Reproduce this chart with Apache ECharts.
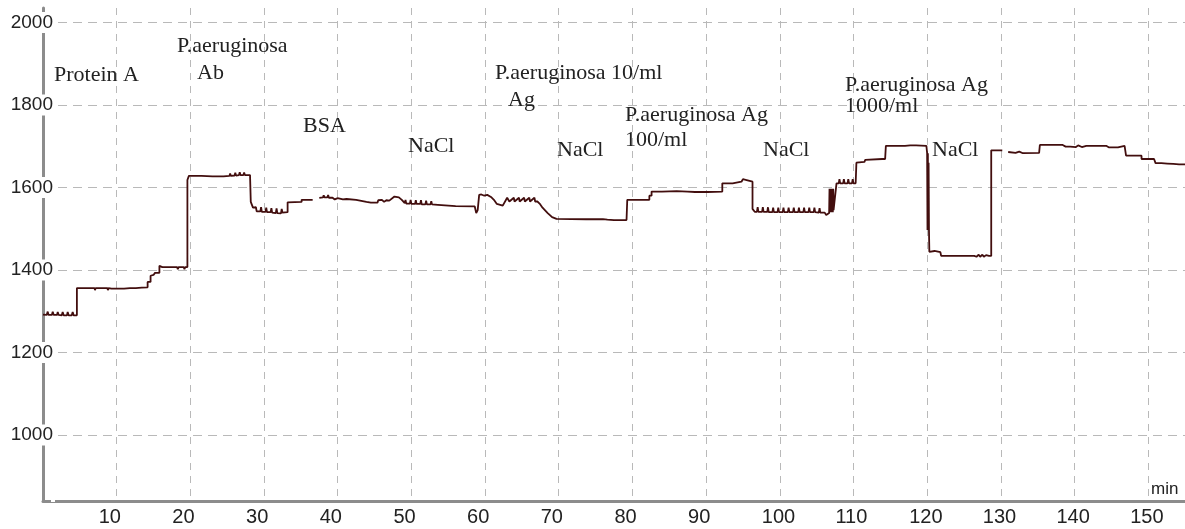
<!DOCTYPE html>
<html>
<head>
<meta charset="utf-8">
<script src="https://cdn.jsdelivr.net/npm/echarts@6/dist/echarts.min.js"></script>
<style>
  html, body { margin: 0; padding: 0; background: #ffffff; }
  #chart { width: 1185px; height: 529px; }
</style>
</head>
<body>
<div id="chart"></div>
<script>
// ---- data ----
const xTickLabels = [10, 20, 30, 40, 50, 60, 70, 80, 90, 100, 110, 120, 130, 140, 150];
const yTickLabels = [1000, 1200, 1400, 1600, 1800, 2000];

// time (min) / signal pairs, step-like sensorgram with small ripples
const timeMin = [
  0,0.5,0.64,0.75,1.2,1.32,1.45,1.9,2.0,2.12,2.55,2.67,2.8,3.25,3.35,3.47,3.9,4.03,4.15,4.6,
  4.6,7.0,7.05,7.15,8.75,8.8,8.9,9.3,9.35,9.45,11.0,11.1,11.2,11.8,11.9,12.0,12.6,12.7,12.8,13.4,13.5,13.6,14.2,
  14.2,14.6,14.6,15.0,15.2,15.8,15.8,16.2,18.2,18.3,18.4,19.1,19.2,19.3,19.6,
  19.6,19.8,19.8,21.5,21.6,21.7,23.0,23.1,23.2,24.5,25.3,25.4,25.5,26.0,26.1,26.2,26.6,26.7,26.8,27.2,27.3,27.4,28.1,
  28.2,28.5,28.9,29.0,29.5,29.6,29.7,30.2,30.3,30.4,30.9,31.0,31.1,31.6,31.7,31.8,32.3,32.4,32.5,33.2,
  33.2,35.1,35.1,36.6,37.0,
  37.5,38.0,38.1,38.2,38.6,38.7,38.8,39.3,39.6,40.0,40.7,41.2,41.3,41.4,42.5,43.9,44.5,45.4,45.5,45.7,46.0,46.3,46.6,47.0,47.7,48.3,48.7,
  49.1,49.2,49.3,49.8,49.9,50.0,50.5,50.6,50.7,51.2,51.3,51.4,51.9,52.0,52.1,52.6,52.7,52.8,53.6,53.7,56.0,58.6,58.8,59.0,
  59.2,59.5,59.9,60.3,60.8,61.2,61.6,62.4,63.0,63.2,63.3,63.9,64.0,64.6,64.7,65.3,65.4,66.0,66.1,66.7,66.8,67.1,
  67.4,67.8,68.5,69.1,69.7,73.7,73.8,73.9,76.0,76.1,76.6,77.5,79.2,
  79.3,82.3,82.3,82.6,82.6,84.0,84.1,84.2,86.0,86.1,86.2,87.5,88.5,88.6,88.7,90.2,90.3,90.4,92.2,
  92.2,93.6,93.6,94.8,95.0,95.5,95.6,96.3,
  96.3,96.6,96.9,97.0,97.1,97.6,97.7,97.8,98.3,98.4,98.5,99.0,99.1,99.2,99.7,99.8,99.9,100.4,100.5,100.6,
  101.1,101.2,101.3,101.8,101.9,102.0,102.5,102.6,102.7,103.2,103.3,103.4,103.9,104.0,104.1,104.6,104.7,104.8,
  105.3,105.4,105.5,106.1,106.3,106.5,
  106.7,106.75,106.8,106.85,106.9,106.95,107.0,107.05,107.1,107.15,107.2,107.25,107.3,
  107.7,108.0,108.1,108.2,108.6,108.7,108.8,109.2,109.3,109.4,109.8,109.9,110.0,110.3,
  110.4,111.5,111.6,113.9,114.3,114.4,116.3,116.4,116.5,117.0,117.1,117.2,117.7,117.8,117.9,118.5,119.9,
  120.0,120.05,120.1,120.15,120.2,120.25,120.3,121.0,121.1,121.2,121.8,121.9,126.4,126.5,126.7,127.0,127.2,127.5,127.7,128.0,128.4,128.7,
  128.7,129.0,129.1,129.2,129.6,129.7,129.8,130.2,130.5,
  131.0,132.0,132.2,132.5,133.0,135.2,
  135.3,138.0,138.2,138.4,138.8,139.0,139.4,139.6,140.2,140.5,141.0,141.6,143.9,144.1,144.3,144.7,144.9,145.3,145.5,145.9,146.1,146.8,
  147.0,149.1,149.1,150.8,151.0,151.8,151.9,152.0,152.6,152.7,152.8,153.4,153.5,153.6,154.2,154.3,154.4,155
];
const signal = [
  1292,1291,1299,1291,1291,1299,1291,1291,1298,1291,1290,1298,1290,1290,1298,1290,1290,1298,1290,1290,
  1356,1356,1351,1356,1356,1351,1356,1355,1351,1355,1355,1359,1355,1356,1360,1356,1356,1360,1356,1357,1361,1357,1358,
  1371,1371,1386,1388,1393,1393,1410,1407,1407,1402,1407,1407,1402,1407,1407,
  1618,1618,1628,1628,1625,1628,1627,1624,1627,1627,1628,1634,1628,1629,1636,1629,1630,1637,1630,1630,1636,1630,1630,
  1565,1551,1552,1542,1542,1552,1541,1541,1551,1540,1540,1550,1539,1538,1549,1538,1537,1548,1539,1540,
  1564,1565,1570,1570,null,
  1575,1576,1581,1576,1576,1582,1575,1575,1571,1574,1571,1572,1576,1571,1570,1565,1563,1563,1569,1566,1570,1565,1569,1568,1578,1576,1570,
  1562,1570,1561,1561,1570,1560,1560,1569,1560,1560,1569,1559,1559,1568,1559,1559,1567,1559,1558,1555,1555,1554,1538,1545,
  1582,1583,1580,1582,1577,1570,1560,1556,1575,1575,1566,1575,1566,1575,1566,1575,1566,1575,1566,1575,1566,1566,
  1561,1551,1538,1528,1524,1523,1519,1523,1523,1520,1522,1521,1521,
  1570,1570,1580,1580,1590,1590,1594,1590,1591,1595,1591,1590,1589,1593,1589,1589,1593,1589,1590,
  1610,1610,1614,1614,1620,1618,1614,1614,
  1548,1541,1541,1552,1541,1541,1552,1541,1541,1552,1540,1540,1551,1540,1540,1551,1540,1540,1551,1540,
  1540,1551,1540,1540,1551,1540,1540,1551,1540,1540,1551,1540,1540,1551,1540,1540,1551,1540,
  1539,1550,1539,1539,1533,1535,
  1538,1597,1540,1597,1540,1597,1540,1597,1540,1597,1540,1597,1545,
  1610,1610,1620,1610,1610,1620,1610,1610,1620,1610,1610,1620,1610,1610,
  1660,1662,1667,1669,1669,1701,1701,1705,1701,1701,1705,1701,1702,1706,1702,1702,1701,
  1683,1497,1683,1497,1660,1497,1444,1446,1449,1443,1443,1434,1434,1438,1432,1437,1432,1437,1432,1436,1434,1434,
  1690,1690,1694,1690,1690,1694,1690,1690,null,
  1686,1684,1681,1687,1683,1684,
  1703,1703,1699,1703,1699,1703,1699,1702,1698,1702,1698,1701,1701,1697,1701,1697,1701,1697,1701,1697,1701,1701,
  1677,1677,1669,1669,1659,1659,1655,1659,1658,1654,1658,1657,1653,1657,1656,1652,1656,1656
];

// annotation texts (positions are kept separately below)
const annotationTexts = [
  'Protein A', 'P.aeruginosa', 'Ab', 'BSA', 'NaCl',
  'P.aeruginosa 10/ml', 'Ag', 'NaCl', 'P.aeruginosa Ag', '100/ml',
  'NaCl', 'P.aeruginosa Ag', '1000/ml', 'NaCl'
];

// ---- layout ----
const annotationPos = [
  [54, 75], [177, 46], [197, 73], [303, 126], [408, 146],
  [495, 73], [508, 100], [557, 150], [625, 115], [625, 140],
  [763, 150], [845, 85], [845, 106], [932, 150]
];

const seriesData = timeMin.map((t, i) => [t, signal[i]]);

const chart = echarts.init(document.getElementById('chart'), null, { renderer: 'canvas' });

const gridColor = '#b9b9b9';
const axisColor = '#8c8c8c';

chart.setOption({
  animation: false,
  backgroundColor: '#ffffff',
  grid: { left: 43, right: 0, top: 8, bottom: 28, containLabel: false, outerBoundsMode: 'none' },
  xAxis: {
    type: 'value',
    min: 0,
    max: 155,
    interval: 10,
    name: 'min',
    nameLocation: 'end',
    nameGap: -34,
    nameTextStyle: {
      fontFamily: 'Liberation Sans', fontSize: 17, color: '#222',
      align: 'left', verticalAlign: 'bottom', padding: [0, 0, 3, 0]
    },
    axisLine: { show: true, onZero: false, lineStyle: { color: axisColor, width: 3 } },
    axisTick: { show: false },
    axisLabel: {
      margin: 6,
      showMinLabel: true,
      showMaxLabel: true,
      formatter: v => (xTickLabels.indexOf(v) >= 0 ? '{t|' + v + '}' : ''),
      rich: {
        t: { width: 36, align: 'left', fontFamily: 'Liberation Sans', fontSize: 20, color: '#222' }
      }
    },
    splitLine: {
      show: true, showMinLine: false, showMaxLine: false,
      lineStyle: { color: gridColor, width: 1, type: [7, 6] }
    }
  },
  yAxis: {
    type: 'value',
    min: 840,
    max: 2035,
    axisLine: { show: true, onZero: false, lineStyle: { color: axisColor, width: 3 } },
    axisTick: { show: false },
    axisLabel: {
      margin: -12,
      fontFamily: 'Liberation Sans', fontSize: 19, color: '#222',
      backgroundColor: '#ffffff',
      padding: [1, 2, 1, 2],
      formatter: v => (yTickLabels.indexOf(v) >= 0 ? String(v) : '')
    },
    splitLine: {
      show: true, showMinLine: false, showMaxLine: false,
      lineStyle: { color: gridColor, width: 1, type: [9, 6] }
    }
  },
  series: [{
    type: 'line',
    data: seriesData,
    showSymbol: false,
    connectNulls: false,
    clip: true,
    lineStyle: { color: '#420e0e', width: 1.8 },
    itemStyle: { color: '#420e0e' },
    z: 5
  }],
  graphic: annotationTexts.map((txt, i) => ({
    type: 'text',
    x: annotationPos[i][0],
    y: annotationPos[i][1],
    z: 10,
    style: {
      text: txt,
      font: '22px "Liberation Serif"',
      fill: '#222',
      textAlign: 'left',
      textVerticalAlign: 'middle'
    }
  }))
});
</script>
</body>
</html>
